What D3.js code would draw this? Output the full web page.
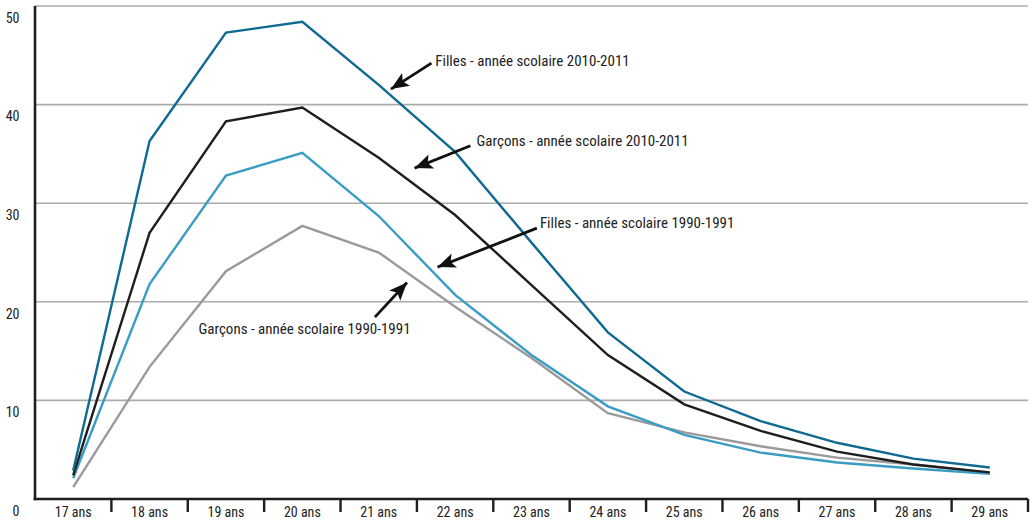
<!DOCTYPE html>
<html>
<head>
<meta charset="utf-8">
<script src="https://cdn.jsdelivr.net/npm/d3@7"></script>
<style>
  html, body { margin: 0; padding: 0; background: #fff; }
  svg { display: block; }
  text { font-family: "Liberation Sans Narrow", "Arial Narrow", "Roboto Condensed", sans-serif; fill: #222; }
</style>
</head>
<body>
<svg id="chart" width="1033" height="525"></svg>
<script>
// ---- Data ----
const categories = ["17 ans","18 ans","19 ans","20 ans","21 ans","22 ans","23 ans","24 ans","25 ans","26 ans","27 ans","28 ans","29 ans"];
const yTicks = [0, 10, 20, 30, 40, 50];

const filles2010 = [2.9, 36.3, 47.3, 48.4, 42.0, 35.2, 26.0, 16.9, 10.9, 7.9, 5.7, 4.1, 3.2];
const garcons2010 = [2.4, 27.0, 38.3, 39.7, 34.6, 28.8, 21.7, 14.6, 9.6, 6.9, 4.8, 3.5, 2.7];
const filles1990 = [2.1, 21.8, 32.8, 35.1, 28.7, 20.7, 14.6, 9.4, 6.5, 4.7, 3.7, 3.1, 2.55];
const garcons1990 = [1.2, 13.4, 23.1, 27.7, 25.0, 19.5, 14.3, 8.7, 6.75, 5.35, 4.2, 3.5, 2.65];

const seriesNames = [
  "Filles - année scolaire 2010-2011",
  "Garçons - année scolaire 2010-2011",
  "Filles - année scolaire 1990-1991",
  "Garçons - année scolaire 1990-1991"
];
const seriesColors = ["#0f6a92", "#1e1e1e", "#3a9cc3", "#9a9a9a"];

// Annotation anchors in data units: [category index, value]
const annoText = [[4.74, 44.3], [5.28, 36.16], [6.11, 27.9], [1.64, 17.09]];
const annoTail = [[4.69, 44.2], [5.20, 35.82], [6.07, 27.47], [3.95, 18.45]];
const annoTip  = [[4.16, 41.57], [4.47, 33.56], [4.77, 23.52], [4.37, 21.96]];

// ---- Layout ----
const svg = d3.select("#chart");
const mLeft = 35, mRight = 1028, mTop = 6, mBottom = 499;

const x = d3.scaleBand().domain(categories).range([mLeft, mRight]).padding(0);
const bw = x.bandwidth();
const xi = d3.scaleLinear().domain([0, categories.length - 1])
  .range([x(categories[0]) + bw / 2, x(categories[categories.length - 1]) + bw / 2]);
const y = d3.scaleLinear().domain([0, 50]).range([mBottom, mTop]);

// gridlines
svg.append("g").selectAll("line").data(yTicks.filter(d => d > 0)).join("line")
  .attr("x1", mLeft).attr("x2", mRight)
  .attr("y1", d => y(d)).attr("y2", d => y(d))
  .attr("stroke", "#ababab").attr("stroke-width", 1.6);

// y labels
svg.append("g").selectAll("text").data(yTicks).join("text")
  .attr("x", 19.5).attr("y", d => y(d) + 13)
  .attr("text-anchor", "end").attr("dominant-baseline", "middle")
  .attr("font-size", 14)
  .text(d => d);

// lines
const line = d3.line().x((d, i) => xi(i)).y(d => y(d));
const allSeries = [filles2010, garcons2010, filles1990, garcons1990];
const drawOrder = [3, 2, 1, 0];
svg.append("g").selectAll("path").data(drawOrder).join("path")
  .attr("d", k => line(allSeries[k]))
  .attr("fill", "none")
  .attr("stroke", k => seriesColors[k])
  .attr("stroke-width", 2.4)
  .attr("stroke-linejoin", "miter");

// axes
svg.append("line").attr("x1", mLeft).attr("x2", mLeft).attr("y1", mTop).attr("y2", mBottom + 1.2)
  .attr("stroke", "#1e1e1e").attr("stroke-width", 2.6);
svg.append("line").attr("x1", mLeft - 1.3).attr("x2", mRight).attr("y1", mBottom).attr("y2", mBottom)
  .attr("stroke", "#1e1e1e").attr("stroke-width", 2.6);

// x ticks at band boundaries
const boundaries = categories.map(c => x(c) + bw);
svg.append("g").selectAll("line").data(boundaries).join("line")
  .attr("x1", d => d).attr("x2", d => d)
  .attr("y1", mBottom).attr("y2", mBottom + 13)
  .attr("stroke", "#1e1e1e").attr("stroke-width", 2.4);

svg.append("g").selectAll("text").data(categories).join("text")
  .attr("x", d => x(d) + bw / 2).attr("y", mBottom + 14.5)
  .attr("text-anchor", "middle").attr("dominant-baseline", "middle")
  .attr("font-size", 14)
  .text(d => d);

// arrowhead marker
svg.append("defs").append("marker")
  .attr("id", "ah").attr("markerUnits", "userSpaceOnUse")
  .attr("markerWidth", 24).attr("markerHeight", 24)
  .attr("refX", 18).attr("refY", 7.5).attr("orient", "auto")
  .append("path").attr("d", "M0,0 L18,7.5 L0,15 L4,7.5 Z").attr("fill", "#111");

// annotations
const ann = svg.append("g");
seriesNames.forEach((name, k) => {
  const [tx, tv] = annoTail[k];
  const [px, pv] = annoTip[k];
  ann.append("line")
    .attr("x1", xi(tx)).attr("y1", y(tv))
    .attr("x2", xi(px)).attr("y2", y(pv))
    .attr("stroke", "#111").attr("stroke-width", 2.8)
    .attr("marker-end", "url(#ah)");
  ann.append("text")
    .attr("x", xi(annoText[k][0])).attr("y", y(annoText[k][1]))
    .attr("dominant-baseline", "middle")
    .attr("font-size", 15)
    .text(name);
});
</script>
</body>
</html>
